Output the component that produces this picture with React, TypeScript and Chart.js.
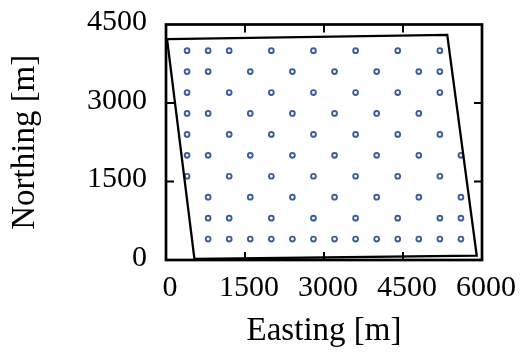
import React, { useEffect, useRef } from "react";
import { Chart, registerables } from "chart.js";

Chart.register(...registerables);

// Sample locations: easting values per northing row (m)
const rowNorthing = [4000, 3600, 3200, 2800, 2400, 2000, 1600, 1200, 800, 400];
const row4000 = [400, 800, 1200, 2000, 2800, 3600, 4400, 5200];
const row3600 = [400, 800, 1600, 2400, 3200, 4000, 4800, 5200];
const row3200 = [400, 1200, 2000, 2800, 3600, 4400, 5200];
const row2800 = [400, 800, 1600, 2400, 3200, 4000, 4800];
const row2400 = [400, 1200, 2000, 2800, 3600, 4400, 5200];
const row2000 = [400, 800, 1600, 2400, 3200, 4000, 4800, 5600];
const row1600 = [400, 1200, 2000, 2800, 3600, 4400, 5200];
const row1200 = [800, 1600, 2400, 3200, 4000, 4800, 5600];
const row800 = [800, 1200, 2000, 2800, 3600, 4400, 5200, 5600];
const row400 = [800, 1200, 1600, 2000, 2400, 2800, 3200, 3600, 4000, 4400, 4800, 5200, 5600];
const rowEastings = [row4000, row3600, row3200, row2800, row2400, row2000, row1600, row1200, row800, row400];

// Boundary polygon (closed)
const boundaryEasting = [20, 5340, 5900, 540, 20];
const boundaryNorthing = [4220, 4300, 84, 20, 4220];

// Axis ticks
const xTicks = [0, 1500, 3000, 4500, 6000];
const yTicks = [0, 1500, 3000, 4500];

const FONT = "'Liberation Serif', 'Times New Roman', serif";

const framePlugin = {
  id: "frameTicks",
  afterDatasetsDraw(chart: any) {
    const { ctx, chartArea: a, scales } = chart;
    const x = scales.x;
    const y = scales.y;
    const len = 8;
    ctx.save();
    ctx.strokeStyle = "#000";
    ctx.lineWidth = 2;
    ctx.beginPath();
    xTicks.slice(1, -1).forEach((v) => {
      const px = x.getPixelForValue(v);
      ctx.moveTo(px, a.bottom);
      ctx.lineTo(px, a.bottom - len);
      ctx.moveTo(px, a.top);
      ctx.lineTo(px, a.top + len);
    });
    yTicks.slice(1, -1).forEach((v) => {
      const py = y.getPixelForValue(v);
      ctx.moveTo(a.left, py);
      ctx.lineTo(a.left + len, py);
      ctx.moveTo(a.right, py);
      ctx.lineTo(a.right - len, py);
    });
    ctx.stroke();
    ctx.lineWidth = 2.7;
    ctx.strokeRect(a.left, a.top, a.right - a.left, a.bottom - a.top);
    ctx.restore();
  },
};

export default function App() {
  const ref = useRef<HTMLCanvasElement | null>(null);

  useEffect(() => {
    document.body.style.margin = "0";
    const points: { x: number; y: number }[] = [];
    rowNorthing.forEach((n, i) => {
      rowEastings[i].forEach((e) => points.push({ x: e, y: n }));
    });
    const boundary = boundaryEasting.map((e, i) => ({ x: e, y: boundaryNorthing[i] }));

    const chart = new Chart(ref.current as HTMLCanvasElement, {
      type: "scatter",
      data: {
        datasets: [
          {
            label: "boundary",
            data: boundary,
            showLine: true,
            borderColor: "#000",
            borderWidth: 2.3,
            pointRadius: 0,
            fill: false,
            tension: 0,
          },
          {
            label: "samples",
            data: points,
            pointRadius: 2.4,
            pointBorderWidth: 1.9,
            borderColor: "#3a5e9c",
            backgroundColor: "#ffffff",
          },
        ],
      },
      options: {
        responsive: false,
        animation: false,
        devicePixelRatio: 1,
        layout: { padding: { top: 24.5, right: 39, left: 0, bottom: 0 } },
        plugins: { legend: { display: false }, tooltip: { enabled: false } },
        scales: {
          x: {
            type: "linear",
            min: 0,
            max: 6000,
            afterBuildTicks: (s: any) => {
              s.ticks = xTicks.map((v) => ({ value: v }));
            },
            afterFit: (s: any) => {
              s.height = 94;
              s.paddingLeft = 0;
              s.paddingRight = 0;
            },
            grid: { display: false, drawTicks: false },
            border: { display: false },
            ticks: {
              autoSkip: false,
              maxRotation: 0,
              padding: 10,
              labelOffset: 4,
              color: "#000",
              font: { family: FONT, size: 30 },
              callback: (v: any) => String(v),
            },
            title: {
              display: true,
              text: "Easting [m]",
              color: "#000",
              font: { family: FONT, size: 33 },
              padding: { top: 0, bottom: 3 },
            },
          },
          y: {
            type: "linear",
            min: 0,
            max: 4500,
            afterBuildTicks: (s: any) => {
              s.ticks = yTicks.map((v) => ({ value: v }));
            },
            afterFit: (s: any) => {
              s.width = 166;
              s.paddingTop = 0;
              s.paddingBottom = 0;
            },
            grid: { display: false, drawTicks: false },
            border: { display: false },
            ticks: {
              autoSkip: false,
              padding: 19,
              labelOffset: -2,
              color: "#000",
              font: { family: FONT, size: 30 },
              callback: (v: any) => String(v),
            },
            title: {
              display: true,
              text: "Northing [m]",
              color: "#000",
              font: { family: FONT, size: 33 },
              padding: { top: 6, bottom: 0 },
            },
          },
        },
      },
      plugins: [framePlugin],
    });
    return () => chart.destroy();
  }, []);

  return (
    <div style={{ width: 521, height: 354 }}>
      <canvas ref={ref} width={521} height={354} style={{ display: "block" }} />
    </div>
  );
}
